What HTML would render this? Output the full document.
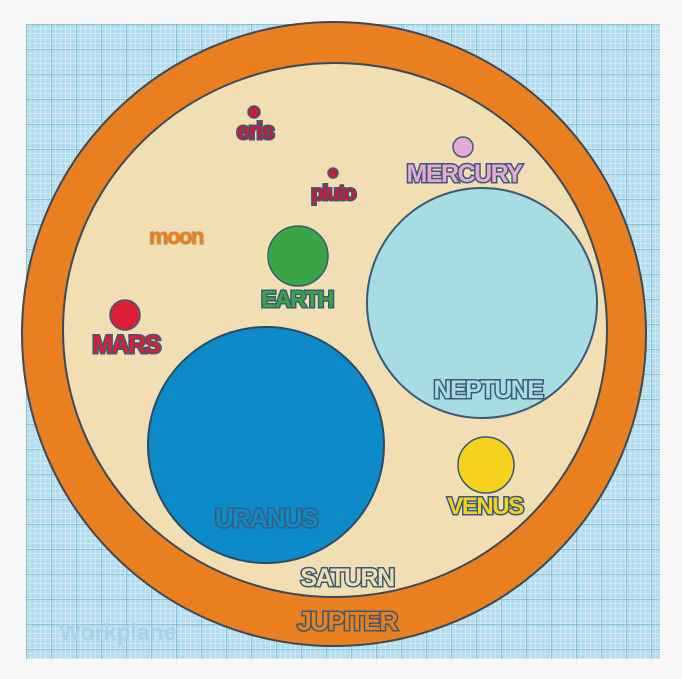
<!DOCTYPE html>
<html><head><style>
body{margin:0;width:682px;height:679px;background:#f7f7f7;overflow:hidden}
svg{display:block}
text{font-family:"Liberation Sans",sans-serif;font-weight:bold;text-anchor:middle;paint-order:stroke;stroke:#3a5a78;stroke-width:3px;letter-spacing:-1.5px}
</style></head><body>
<svg width="682" height="679" viewBox="0 0 682 679">
<defs>
<pattern id="minor" width="5" height="5" patternUnits="userSpaceOnUse" x="26" y="24">
<path d="M5 0V5M0 5H5" stroke="#e4f3fa" stroke-width="1"/>
</pattern>
<pattern id="major" width="25" height="25" patternUnits="userSpaceOnUse" x="26" y="24">
<path d="M0 0V25M0 0H25" stroke="#5ea6c6" stroke-width="1"/>
</pattern>
</defs>
<rect x="26" y="24" width="634" height="635" fill="#b3dcee"/>
<rect x="26" y="24" width="634" height="635" fill="url(#minor)"/>
<rect x="26" y="24" width="634" height="635" fill="url(#major)"/>
<text x="118" y="640" style="fill:#a6d3e8;stroke:none;font-size:23px;letter-spacing:0">Workplane</text>
<ellipse cx="334" cy="334" rx="312" ry="312" fill="#ea7f1f" stroke="#3a4a5a" stroke-width="2"/>
<ellipse cx="335" cy="330" rx="272" ry="267" fill="#f2deb3" stroke="#3a4a5a" stroke-width="2"/>
<circle cx="482" cy="303" r="115" fill="#a8dce3" stroke="#3a5a78" stroke-width="2"/>
<circle cx="266" cy="445" r="118" fill="#0d8bc9" stroke="#2a4a68" stroke-width="2"/>
<circle cx="486" cy="465" r="28" fill="#f5d21e" stroke="#3a5a78" stroke-width="1.5"/>
<circle cx="298" cy="256" r="30" fill="#3aa447" stroke="#3a5a78" stroke-width="1.5"/>
<circle cx="125" cy="315" r="15" fill="#d81f35" stroke="#3a5a78" stroke-width="1.5"/>
<circle cx="463" cy="147" r="10" fill="#e8a8d4" stroke="#3a5a78" stroke-width="1.5"/>
<circle cx="254" cy="112" r="6" fill="#c81a3a" stroke="#3a5a78" stroke-width="1.5"/>
<circle cx="333" cy="173" r="5" fill="#c81a3a" stroke="#3a5a78" stroke-width="1.5"/>
<text x="255" y="139" style="fill:#c81a3a;font-size:24px">eris</text>
<text x="333" y="200" style="fill:#c81a3a;font-size:21px">pluto</text>
<text x="176" y="244" style="fill:#ea7f1f;font-size:22px;stroke:#c9a070;stroke-width:1.5px">moon</text>
<text x="297" y="307" style="fill:#3aa447;font-size:23px">EARTH</text>
<text x="126" y="353" style="fill:#d81f35;font-size:25px">MARS</text>
<text x="464" y="182" style="fill:#e8a8d4;font-size:25px">MERCURY</text>
<text x="488" y="398" style="fill:#a8dce3;font-size:25px">NEPTUNE</text>
<text x="266" y="527" style="fill:#0d8bc9;font-size:26px">URANUS</text>
<text x="485" y="514" style="fill:#f5d21e;font-size:24px">VENUS</text>
<text x="347" y="586" style="fill:#f2deb3;font-size:25px">SATURN</text>
<text x="347" y="630" style="fill:#ea7f1f;font-size:26px">JUPITER</text>
</svg>
</body></html>
